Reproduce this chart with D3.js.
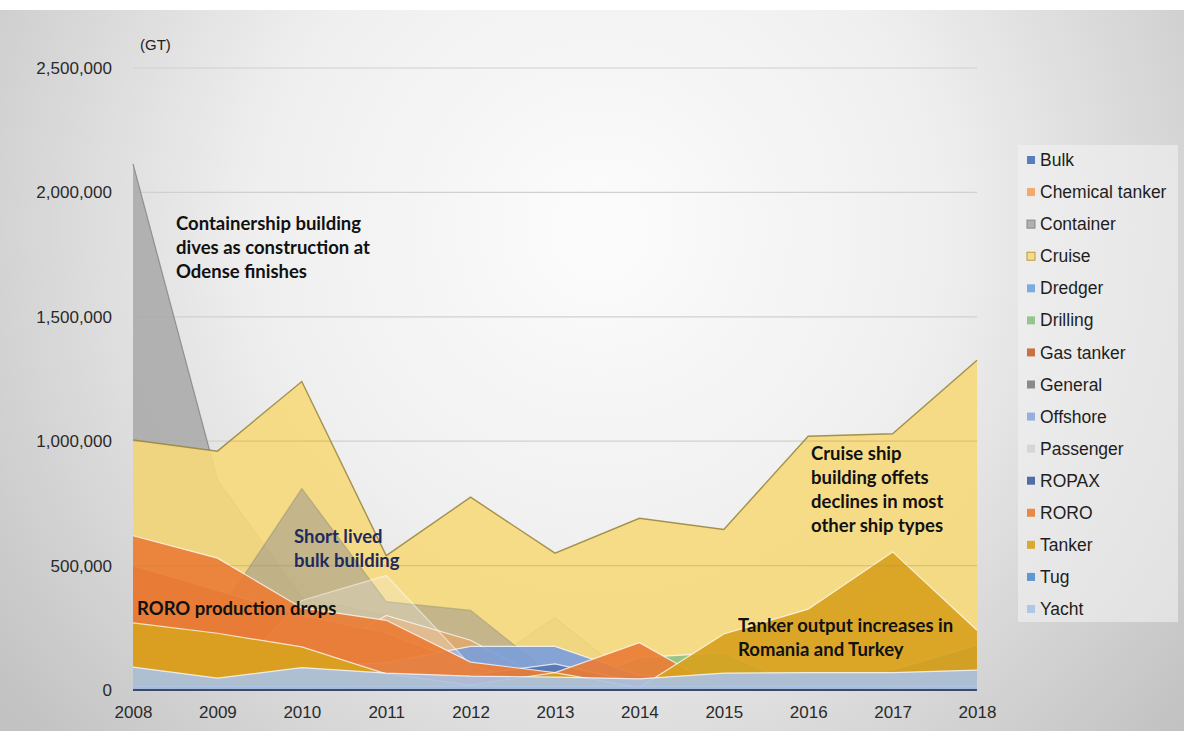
<!DOCTYPE html>
<html><head><meta charset="utf-8">
<script src="https://cdn.jsdelivr.net/npm/d3@7"></script>
<style>html,body{margin:0;padding:0;background:#fff;}svg{display:block;}</style>
</head><body>
<svg id="c" width="1184" height="731"></svg>
<script>
const years = [2008,2009,2010,2011,2012,2013,2014,2015,2016,2017,2018];
const seriesNames = ["Bulk","Chemical tanker","Container","Cruise","Dredger","Drilling","Gas tanker","General","Offshore","Passenger","ROPAX","RORO","Tanker","Tug","Yacht"];
const bulk      = [150000,300000,810000,355000,320000,50000,0,0,0,0,0];
const chemical  = [0,30000,100000,300000,200000,20000,0,0,0,0,0];
const container = [2115000,845000,370000,300000,60000,290000,20000,0,0,0,0];
const cruise    = [1005000,960000,1240000,540000,775000,550000,690000,645000,1020000,1030000,1325000];
const dredger   = [30000,20000,40000,30000,30000,30000,30000,40000,40000,40000,50000];
const drilling  = [0,0,0,0,0,0,130000,150000,0,0,0];
const gasTanker = [500000,400000,300000,230000,100000,50000,0,0,0,0,0];
const general   = [0,0,0,0,0,0,0,0,0,80000,180000];
const offshore  = [50000,40000,90000,110000,175000,175000,60000,60000,60000,60000,70000];
const passenger = [0,0,360000,460000,100000,0,0,0,0,0,0];
const ropax     = [0,0,0,30000,60000,105000,30000,0,0,0,0];
const roro      = [620000,530000,330000,280000,112000,70000,190000,0,0,0,0];
const tanker    = [270000,228000,173000,65000,20000,70000,10000,225000,325000,555000,240000];
const tug       = [15000,15000,15000,15000,15000,15000,15000,15000,15000,15000,15000];
const yacht     = [92000,48000,90000,68000,56000,52000,45000,68000,70000,70000,80000];
const yTicks = [0,500000,1000000,1500000,2000000,2500000];

const seriesValues = [bulk,chemical,container,cruise,dredger,drilling,gasTanker,general,offshore,passenger,ropax,roro,tanker,tug,yacht];
const legendColors = ["#4a6fb8","#f4a05a","#a8a8a8","#f7d97c","#6aa6dc","#8cc084","#c8642a","#7f7f7f","#8aa8dc","#d4d4d4","#3f5f9f","#ea7d36","#d8a21e","#4f8fcf","#aac2e6"];
const areaFills = ["#6c7590","#f4a05a","#a8a8a8","#f7d97c","#5b9bd5","#8cc084","#c8642a","#7f7f7f","#7a9fdb","#eeeeee","#3f5f9f","#ea7d36","#d8a21e","#4f8fcf","#aac2e6"];
const opac  = [0.36,0.5,0.85,0.9,0.8,0.85,0.85,0.8,0.9,0.25,0.6,0.92,0.92,0.8,0.9];
const strokes = ["#8a8a70","#ffffff","#8a8a8a","#9a8740","#ffffff","#ffffff","#ffffff","#ffffff","#ffffff","#ffffff","#ffffff","#ffffff","#ffffff","#ffffff","#ffffff"];
const drawOrder = [2,3,0,1,4,5,6,7,8,9,10,11,12,13,14];

const svg = d3.select("#c");
const defs = svg.append("defs");
const rg = defs.append("radialGradient").attr("id","bg").attr("gradientUnits","userSpaceOnUse")
  .attr("cx",600).attr("cy",230).attr("r",760);
rg.append("stop").attr("offset","0").attr("stop-color","#fcfcfc");
rg.append("stop").attr("offset","0.45").attr("stop-color","#efefef");
rg.append("stop").attr("offset","1").attr("stop-color","#c2c2c2");
svg.append("rect").attr("x",0).attr("y",10).attr("width",1184).attr("height",721).attr("fill","url(#bg)");

const x = d3.scaleLinear().domain([2008,2018]).range([133,977]);
const y = d3.scaleLinear().domain([0,2500000]).range([690,68]);

svg.append("g").selectAll("line").data(yTicks.slice(1)).join("line")
  .attr("x1",x(2008)).attr("x2",x(2018)).attr("y1",d=>y(d)).attr("y2",d=>y(d))
  .attr("stroke","#d0d0d0").attr("stroke-width",1.2);

const area = d3.area().x((d,i)=>x(years[i])).y0(y(0)).y1(d=>y(d));
const line = d3.line().x((d,i)=>x(years[i])).y(d=>y(d));
defs.append("clipPath").attr("id","cruiseClip").append("path").attr("d",area(cruise));

const g = svg.append("g");
drawOrder.forEach(k=>{
  const vals = seriesValues[k];
  g.append("path").attr("d",area(vals)).attr("fill",areaFills[k]).attr("fill-opacity",opac[k]);
  g.append("path").attr("d",line(vals)).attr("fill","none").attr("stroke",strokes[k])
    .attr("stroke-width", k===3?1.4:1.2).attr("stroke-opacity", (k===3||k===2)?0.9:(k===0?0.45:(k===9?0.5:0.75)));
});
svg.append("g").attr("clip-path","url(#cruiseClip)").selectAll("line").data(yTicks.slice(1)).join("line")
  .attr("x1",x(2008)).attr("x2",x(2018)).attr("y1",d=>y(d)).attr("y2",d=>y(d))
  .attr("stroke","#a89050").attr("stroke-opacity",0.3).attr("stroke-width",1.2);
svg.append("line").attr("x1",x(2008)).attr("x2",x(2018)).attr("y1",y(0)).attr("y2",y(0))
  .attr("stroke","#3c4a66").attr("stroke-width",2);

const font = "'Liberation Sans', Arial, sans-serif";
const yAxis = d3.axisLeft(y).tickValues(yTicks).tickSize(0).tickPadding(21).tickFormat(d3.format(","));
const ya = svg.append("g").attr("transform",`translate(${x(2008)},0)`).call(yAxis);
ya.select(".domain").remove();
ya.selectAll("text").attr("font-family",font).attr("font-size",17).attr("fill","#2a2a2a");
const xAxis = d3.axisBottom(x).tickValues(years).tickSize(0).tickPadding(16).tickFormat(d3.format("d"));
const xa = svg.append("g").attr("transform",`translate(0,${y(0)})`).call(xAxis);
xa.select(".domain").remove();
xa.selectAll("text").attr("font-family",font).attr("font-size",17).attr("fill","#2a2a2a");

svg.append("text").attr("x",140).attr("y",45).attr("dy","0.35em").text("(GT)").attr("font-family",font).attr("font-size",15).attr("fill","#222");

const lg = svg.append("g");
lg.append("rect").attr("x",1018).attr("y",145).attr("width",160).attr("height",477).attr("fill","#f2f2f2").attr("fill-opacity",0.6);
seriesNames.forEach((n,i)=>{
  const yy = 160 + i*32.07;
  lg.append("rect").attr("x",1027).attr("y",yy-4).attr("width",8).attr("height",8)
    .attr("fill",legendColors[i]).attr("fill-opacity",0.9).attr("stroke", i===2?"#888":(i===3?"#b89a40":"none")).attr("stroke-width",1);
  lg.append("text").attr("x",1040).attr("y",yy).attr("dy","0.35em").text(n)
    .attr("font-family",font).attr("font-size",17.5).attr("fill","#1e1e1e");
});

const afont = "Lato, 'Open Sans', sans-serif";
function note(lines, x0, y0, color){
  const t = svg.append("text").attr("font-family",afont).attr("font-weight",700).attr("font-size",18.5).attr("fill",color);
  lines.forEach((l,i)=>t.append("tspan").attr("x",x0).attr("y",y0+i*24).attr("dy","0.35em").text(l));
}
note(["Containership building","dives as construction at","Odense finishes"],176,224,"#111");
note(["Short lived","bulk building"],294,537,"#1f2a5c");
note(["RORO production drops"],137,609,"#111");
note(["Cruise ship","building offets","declines in most","other ship types"],811,454,"#111");
note(["Tanker output increases in","Romania and Turkey"],738,626,"#111");
</script>
</body></html>
